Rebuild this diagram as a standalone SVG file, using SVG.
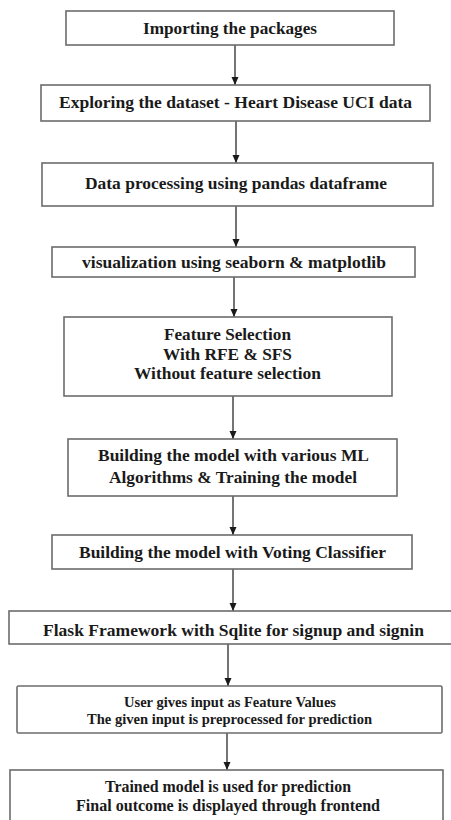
<svg xmlns="http://www.w3.org/2000/svg" width="451" height="820" viewBox="0 0 451 820">
<style>
.box{fill:#fff;stroke:#6c6c6c;stroke-width:1.6}
.t{font-family:"Liberation Serif","Times New Roman",serif;font-weight:bold;font-size:16.5px;fill:#1a1a1a;text-anchor:middle}
.s{font-size:14px}
.m{font-size:16px}
.c{stroke:#2a2a2a;stroke-width:1.3;fill:none;marker-end:url(#ah)}
</style>
<defs>
<marker id="ah" viewBox="0 0 8 8" refX="8" refY="4" markerWidth="8" markerHeight="8" markerUnits="userSpaceOnUse" orient="auto">
<path d="M0,0.5 L8,4 L0,7.5 Z" fill="#1a1a1a"/>
</marker>
</defs>
<rect width="451" height="820" fill="#fff"/>
<g id="connectors">
<line class="c" x1="235" y1="45" x2="235" y2="85"/>
<line class="c" x1="236" y1="121" x2="236" y2="163"/>
<line class="c" x1="236" y1="206" x2="236" y2="247"/>
<line class="c" x1="234" y1="277" x2="234" y2="317"/>
<line class="c" x1="233" y1="396" x2="233" y2="439"/>
<line class="c" x1="233" y1="496" x2="233" y2="535"/>
<line class="c" x1="233" y1="569" x2="233" y2="611"/>
<line class="c" x1="228" y1="644" x2="228" y2="686"/>
<line class="c" x1="227" y1="733" x2="227" y2="770"/>
</g>
<g id="n1">
<rect class="box" x="66" y="11" width="328" height="34"/>
<text class="t" x="230" y="33.5" textLength="174" lengthAdjust="spacingAndGlyphs">Importing the packages</text>
</g>
<g id="n2">
<rect class="box" x="41" y="85" width="389" height="36"/>
<text class="t" x="235.5" y="107.5" textLength="353" lengthAdjust="spacingAndGlyphs">Exploring the dataset - Heart Disease UCI data</text>
</g>
<g id="n3">
<rect class="box" x="42" y="163" width="391" height="43"/>
<text class="t" x="236" y="188.5" textLength="302" lengthAdjust="spacingAndGlyphs">Data processing using pandas dataframe</text>
</g>
<g id="n4">
<rect class="box" x="52" y="247" width="363" height="30"/>
<text class="t" x="234" y="268" textLength="304" lengthAdjust="spacingAndGlyphs">visualization using seaborn &amp; matplotlib</text>
</g>
<g id="n5">
<rect class="box" x="64" y="317" width="328" height="79"/>
<text class="t" x="227.5" y="340" textLength="127" lengthAdjust="spacingAndGlyphs">Feature Selection</text>
<text class="t" x="227.5" y="359.5" textLength="129" lengthAdjust="spacingAndGlyphs">With RFE &amp; SFS</text>
<text class="t" x="227.5" y="379" textLength="187" lengthAdjust="spacingAndGlyphs">Without feature selection</text>
</g>
<g id="n6">
<rect class="box" x="68" y="439" width="329" height="57"/>
<text class="t" x="233.5" y="461" textLength="271" lengthAdjust="spacingAndGlyphs">Building the model with various ML</text>
<text class="t" x="233" y="482.5" textLength="248" lengthAdjust="spacingAndGlyphs">Algorithms &amp; Training the model</text>
</g>
<g id="n7">
<rect class="box" x="52" y="535" width="360" height="34"/>
<text class="t" x="232.5" y="558" textLength="307" lengthAdjust="spacingAndGlyphs">Building the model with Voting Classifier</text>
</g>
<g id="n8">
<rect class="box" x="9" y="611" width="450" height="33"/>
<text class="t" x="233.5" y="635.5" textLength="381" lengthAdjust="spacingAndGlyphs">Flask Framework with Sqlite for signup and signin</text>
</g>
<g id="n9">
<rect class="box" x="17" y="686" width="425" height="47" rx="1.5"/>
<text class="t s" x="230" y="706.5" textLength="212" lengthAdjust="spacingAndGlyphs">User gives input as Feature Values</text>
<text class="t s" x="229.5" y="724" textLength="285" lengthAdjust="spacingAndGlyphs">The given input is preprocessed for prediction</text>
</g>
<g id="n10">
<rect class="box" x="10" y="770" width="433" height="70"/>
<text class="t m" x="228" y="792" textLength="246" lengthAdjust="spacingAndGlyphs">Trained model is used for prediction</text>
<text class="t m" x="228" y="811" textLength="304" lengthAdjust="spacingAndGlyphs">Final outcome is displayed through frontend</text>
</g>
</svg>
